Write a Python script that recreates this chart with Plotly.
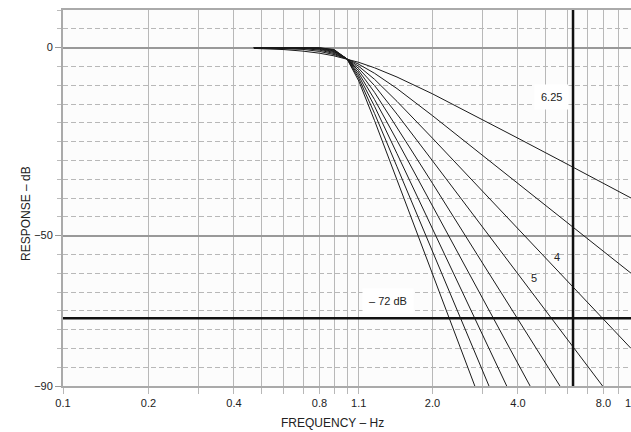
import math
import plotly.graph_objects as go

# Frequencies (Hz) at which the curves were read
freq = [0.47, 0.6, 0.7, 0.8, 0.9, 1.0, 1.1, 1.25, 1.5, 2.0, 3.0, 4.0, 6.0, 8.0, 10.0]

# Response (dB) of each curve (shallowest to steepest)
resp_2 = [-0.21, -0.53, -0.94, -1.49, -2.19, -3.01, -3.92, -5.37, -7.83, -12.3, -19.1, -24.1, -31.1, -36.1, -40.0]
resp_3 = [-0.05, -0.20, -0.48, -1.01, -1.85, -3.01, -4.43, -6.83, -10.9, -18.1, -28.6, -36.1, -46.7, -54.2, -60.0]
resp_4 = [-0.01, -0.07, -0.24, -0.67, -1.56, -3.01, -4.98, -8.43, -14.3, -24.1, -38.2, -48.2, -62.3, -72.3, -80.0]
resp_5 = [0.0, -0.03, -0.12, -0.44, -1.30, -3.01, -5.56, -10.1, -17.7, -30.1, -47.7, -60.2, -77.8, -90.3, -100.0]
resp_6 = [0.0, -0.01, -0.06, -0.29, -1.08, -3.01, -6.17, -11.9, -21.2, -36.1, -57.3, -72.3, -93.4, -108.4, -120.0]
resp_7 = [0.0, 0.0, -0.03, -0.19, -0.89, -3.01, -6.81, -13.8, -24.7, -42.1, -66.8, -84.3, -108.9, -126.0, -140.0]
resp_8 = [0.0, 0.0, -0.01, -0.12, -0.74, -3.01, -7.48, -15.6, -28.2, -48.2, -76.3, -96.3, -124.5, -144.5, -160.0]
resp_9 = [0.0, 0.0, -0.01, -0.08, -0.61, -3.01, -8.17, -17.5, -31.7, -54.2, -85.9, -108.4, -140.0, -162.6, -180.0]
resp_10 = [0.0, 0.0, 0.0, -0.05, -0.50, -3.01, -8.88, -19.4, -35.2, -60.2, -95.4, -120.4, -155.6, -180.6, -200.0]
curves = [resp_2, resp_3, resp_4, resp_5, resp_6, resp_7, resp_8, resp_9, resp_10]

# Reference markers
marker_freq = 6.25
marker_db = -72

# Axis ticks
x_gridvals = [0.1, 0.2, 0.3, 0.4, 0.5, 0.6, 0.7, 0.8, 0.9, 1.0, 1.1,
              2, 3, 4, 5, 6, 7, 8, 9, 10]
x_labels = {0.1: "0.1", 0.2: "0.2", 0.4: "0.4", 0.8: "0.8", 1.1: "1.1",
            2: "2.0", 4: "4.0", 8: "8.0", 10: "10"}
y_tickvals = [0, -50, -90]
y_ticktext = ["0", "\u221250", "\u221290"]

# Curve labels: (text, freq, dB, boxed)
labels = [("6.25", 5.25, -13.1, True), ("\u2013 72 dB", 1.39, -67.3, True),
          ("4", 5.48, -55.6, False), ("5", 4.55, -61.3, False)]

FONT = "Liberation Sans, Arial, sans-serif"

fig = go.Figure()
for c in curves:
    fig.add_trace(go.Scatter(x=freq, y=c, mode="lines",
                             line=dict(color="#1a1a1a", width=1), hoverinfo="skip"))

fig.add_trace(go.Scatter(x=[marker_freq, marker_freq], y=[-90, 10], mode="lines",
                         line=dict(color="#111111", width=2.5), hoverinfo="skip"))
fig.add_trace(go.Scatter(x=[0.1, 10], y=[marker_db, marker_db], mode="lines",
                         line=dict(color="#111111", width=2.5), hoverinfo="skip"))

for text, fx, fy, box in labels:
    kw = dict(bgcolor="white", borderpad=6) if box else {}
    fig.add_annotation(x=math.log10(fx), y=fy, xref="x", yref="y", text=text, showarrow=False,
                       font=dict(family=FONT, size=11, color="#222222"), **kw)

fig.add_annotation(x=-0.081, y=0.46, xref="paper", yref="paper", text="RESPONSE \u2013 dB",
                   textangle=-90, showarrow=False,
                   font=dict(family=FONT, size=12, color="#222222"))
fig.add_annotation(x=0.475, y=-0.098, xref="paper", yref="paper", text="FREQUENCY \u2013 Hz",
                   showarrow=False, yanchor="middle",
                   font=dict(family=FONT, size=12, color="#222222"))

fig.update_layout(
    width=631, height=432,
    margin=dict(l=63, r=0, t=10, b=46, autoexpand=False),
    paper_bgcolor="white", plot_bgcolor="#fcfcfc",
    showlegend=False,
    font=dict(family=FONT, size=11, color="#222222"),
    xaxis=dict(type="log", range=[-1, 1], automargin=False,
               tickmode="array", tickvals=x_gridvals,
               ticktext=[x_labels.get(v, "") for v in x_gridvals],
               ticklabeloverflow="allow",
               showgrid=True, gridcolor="#b8b8b8", gridwidth=1,
               ticks="outside", ticklen=6, tickcolor="#b8b8b8",
               showline=True, linecolor="#aaaaaa", linewidth=2, mirror=True,
               zeroline=False, tickfont=dict(family=FONT, size=11, color="#222222")),
    yaxis=dict(range=[-90, 10], tickmode="array", tickvals=y_tickvals, ticktext=y_ticktext,
               automargin=False,
               showgrid=True, gridcolor="#999999", gridwidth=1.5,
               ticks="outside", ticklen=6, tickcolor="#999999",
               showline=True, linecolor="#aaaaaa", linewidth=2, mirror=True,
               zeroline=False, tickfont=dict(family=FONT, size=11, color="#222222"),
               minor=dict(dtick=5, tick0=0, showgrid=True, gridcolor="#b8b8b8",
                          griddash="5px,3px", gridwidth=1, ticks="outside", ticklen=4,
                          tickcolor="#bbbbbb")),
)

fig.write_html("out.html", config={"displayModeBar": False},
               post_script="document.body.style.margin='0';document.body.style.overflow='hidden';")
